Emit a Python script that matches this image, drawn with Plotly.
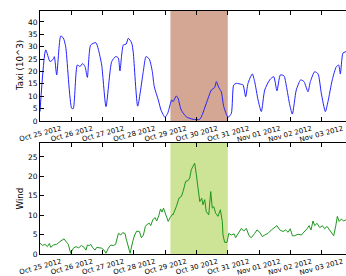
import pandas as pd
import plotly.graph_objects as go

START = pd.Timestamp("2012-10-25 00:00")

# Taxi pickups (10^3), hours since Oct 25 2012 00:00
taxi_hours = [0, 4.4, 7.7, 10.2, 11, 12.8, 15.9, 17.9, 19.7, 24.3, 25.5, 28.6, 30.7, 32.7,
              34.5, 36.3, 38.9, 42.9, 44.7, 47.3, 50.6, 55, 58, 60, 61.3, 63.9, 66, 67.7,
              70.3, 71.5, 74.9, 79.2, 81.3, 83.8, 86.1, 87.6, 90.7, 92.8, 95.8, 97.9, 101,
              102, 104.5, 105.8, 108.3, 112.2, 117.3, 122.5, 127.5, 131.4, 134, 135.2, 137,
              139, 140.9, 144.2, 146.7, 148.5, 150.5, 154.4, 155.7, 157.7, 159.5, 162.8,
              164.6, 167.2, 169.7, 172.3, 176.1, 179.2, 181.7, 184.3, 187.1, 188.9, 191.5,
              193.5, 196.5, 199.9, 202.4, 205.5, 207.3, 210.6, 213.2, 215.7, 218.8, 220.8,
              224.1, 227.2, 229, 230.3, 232.3, 234.6]
taxi_vals = [3.8, 28.7, 24, 25, 26, 18.6, 34.3, 33.5, 30, 5.1, 5, 22.6, 22, 23.2,
             22, 17.6, 30.7, 31.6, 29, 22.6, 5.8, 24, 26, 25.5, 20.2, 30.7, 31, 33.4,
             31.5, 27.7, 6, 20, 26, 25, 20, 13.9, 8.5, 4.4, 1.5, 3.1, 8.5,
             7.8, 10.1, 9.2, 4.4, 1.7, 0.7, 0.7, 7.1, 12.5, 13.6, 15.9, 13.6,
             11.8, 5.8, 1.5, 3.1, 14.5, 15.2, 14.8, 14.6, 9.8, 15.2, 19,
             15.9, 8.5, 3.8, 12.5, 16.6, 17.9, 12.2, 18.6, 18.2, 14.1, 6.5,
             2.8, 12.5, 16.6, 15.9, 11.8, 15.9, 19.9, 19, 11.2, 3.8, 7.8,
             16.6, 21.9, 22.6, 19, 27.4, 28]

# Wind speed, hours since Oct 25 2012 00:00
wind_hours = [0, 2, 3.8, 5.6, 7.2, 8.2, 10.2, 12.8, 15.3, 17.4, 18.4, 20.4, 21.7, 23.5,
              25.6, 27.6, 29.7, 31.7, 33.8, 35.3, 36.3, 37.9, 38.9, 40.4, 42.2, 43.5, 45,
              47.3, 49.1, 50.6, 52.4, 54.2, 56.2, 58, 60.1, 61.9, 63.4, 65.2, 66, 67.5,
              69.1, 71.1, 72.6, 74.2, 76.2, 77.8, 79.3, 80.8, 82.3, 83.9, 84.9, 86.5, 88.2,
              89.5, 91.1, 92.4, 93.6, 94.7, 96.2, 98.3, 99.8, 101.8,
              102, 104.5, 106.6, 108.4, 109.7, 111.7, 113.5, 114.8, 116, 117.3, 118.6,
              119.9, 121.2, 122.5, 124, 125, 126.3, 127.5, 129.4, 130.9, 132.1, 133.2,
              134.7, 136.5, 138.3, 139.8, 140.3, 141.6, 143.4, 144.7, 146.7, 148.8, 150,
              152.6, 154.4, 156.2, 158.2, 160.3, 162, 164.6, 166.4, 168.5, 170.5, 172.3,
              174.8, 177.4, 180, 181.7, 183.8, 186.3, 188.4, 190.2, 191.9, 193.5, 195.3,
              197.8, 200.4, 203, 204.7, 206.3, 207.8, 209.3, 210.6, 212.4, 214.5, 216.5,
              218.3, 220.1, 222.1, 223.9, 225.2, 226.8, 228, 229.3, 231, 232.9, 234.6]
wind_vals = [2.8, 2.2, 2.5, 1.9, 2.7, 1.7, 2.3, 2.5, 3.2, 3.8, 3.9, 3, 2.5, 0.2,
             1.5, 1.9, 1.6, 2.2, 1.7, 1, 2.3, 2.2, 2.5, 1.6, 1, 1.7, 1.6,
             1.5, 1, 0.2, 1.5, 2.3, 2.2, 2.5, 5.3, 4.9, 5.5, 5.3, 4, 2.3,
             0.2, 3.2, 4.9, 5.9, 5.8, 4.2, 4.9, 7.1, 7.7, 7.9, 7.3, 8.8, 9.4,
             8.5, 9.9, 11.6, 10.8, 11.8, 10.5, 8.4, 9.4, 10.3,
             10.1, 12.2, 14.4, 14.8, 16.1, 18.7, 18.9, 19.6, 21.7, 22.6, 23.4,
             20.4, 16.1, 13.5, 14.4, 12.7, 14, 10.9, 10.1, 16.1, 11.8, 12.2,
             10.5, 9.7, 11.4, 8.4, 4.9, 3, 3, 5.3, 4.9, 5.2, 4.2,
             5.8, 6.6, 5.9, 6.6, 4.7, 4.2, 5.3, 6.2, 5.6, 4.5, 4.9,
             5.3, 6.2, 6.8, 7.3, 6.2, 5.8, 6.2, 5.6, 6.5, 4.7, 4.7,
             5.1, 4.9, 5.8, 6.5, 7.3, 6.2, 8.5, 7.3, 7.9, 6.8, 7.3,
             6.5, 7.1, 6.2, 5.3, 4.7, 7.3, 9.7, 8.4, 9, 8.5, 8.8]

# Storm window (hours since start)
storm_start_h = 100
storm_end_h = 144
view_end_h = 234.63


def to_time(hours):
    return [START + pd.Timedelta(hours=h) for h in hours]


FONT = "DejaVu Sans"
fig = go.Figure()
fig.add_trace(go.Scatter(x=to_time(taxi_hours), y=taxi_vals, mode="lines",
                         line=dict(color="#2222ff", width=1, shape="spline", smoothing=0.6),
                         xaxis="x", yaxis="y", showlegend=False))
fig.add_trace(go.Scatter(x=to_time(wind_hours), y=wind_vals, mode="lines",
                         line=dict(color="#1e961e", width=1),
                         xaxis="x2", yaxis="y2", showlegend=False))

t0 = START + pd.Timedelta(hours=storm_start_h)
t1 = START + pd.Timedelta(hours=storm_end_h)
fig.add_shape(type="rect", xref="x", yref="y domain", x0=t0, x1=t1, y0=0, y1=1,
              fillcolor="#d3a794", line_width=0, layer="below")
fig.add_shape(type="rect", xref="x2", yref="y2 domain", x0=t0, x1=t1, y0=0, y1=1,
              fillcolor="#cde395", line_width=0, layer="below")

xr = [START, START + pd.Timedelta(hours=view_end_h)]
xcommon = dict(range=xr, type="date", tickformat="%b %d %Y", dtick=86400000,
               tick0="2012-10-25", ticks="inside", ticklen=4, tickcolor="black",
               showline=True, linecolor="black", linewidth=1, mirror="ticks",
               showgrid=False, zeroline=False, tickangle=-15, ticklabelshift=21,
               automargin=False,
               tickfont=dict(family=FONT, size=7, color="black"))
ycommon = dict(ticks="inside", ticklen=4, tickcolor="black", showline=True,
               linecolor="black", linewidth=1, mirror=False, showgrid=False,
               zeroline=False, dtick=5, automargin=False,
               tickfont=dict(family=FONT, size=7.5, color="black"))

TOP_DOM = [0.5473, 1]
BOT_DOM = [0, 0.4568]

fig.update_layout(
    width=346, height=276,
    margin=dict(l=40, r=0, t=11, b=22),
    paper_bgcolor="white", plot_bgcolor="white",
    xaxis=dict(domain=[0, 1], anchor="y", **xcommon),
    xaxis2=dict(domain=[0, 1], anchor="y2", **xcommon),
    yaxis=dict(domain=TOP_DOM, anchor="x", range=[0, 44.4], **ycommon),
    yaxis2=dict(domain=BOT_DOM, anchor="x2", range=[0, 28.6], **ycommon),
    annotations=[
        dict(text="Taxi (10^3)", xref="paper", yref="paper", x=0, xshift=-20,
             y=sum(TOP_DOM) / 2, textangle=-90, showarrow=False,
             xanchor="center", yanchor="middle",
             font=dict(family=FONT, size=8.7, color="black")),
        dict(text="Wind", xref="paper", yref="paper", x=0, xshift=-20,
             y=sum(BOT_DOM) / 2, textangle=-90, showarrow=False,
             xanchor="center", yanchor="middle",
             font=dict(family=FONT, size=8.7, color="black")),
    ],
)

fig.write_html(
    "out.html",
    config={"displayModeBar": False, "staticPlot": True},
    post_script=(
        "document.documentElement.style.margin='0';"
        "document.documentElement.style.overflow='hidden';"
        "document.body.style.margin='0';"
        "document.body.style.overflow='hidden';"
    ),
)
